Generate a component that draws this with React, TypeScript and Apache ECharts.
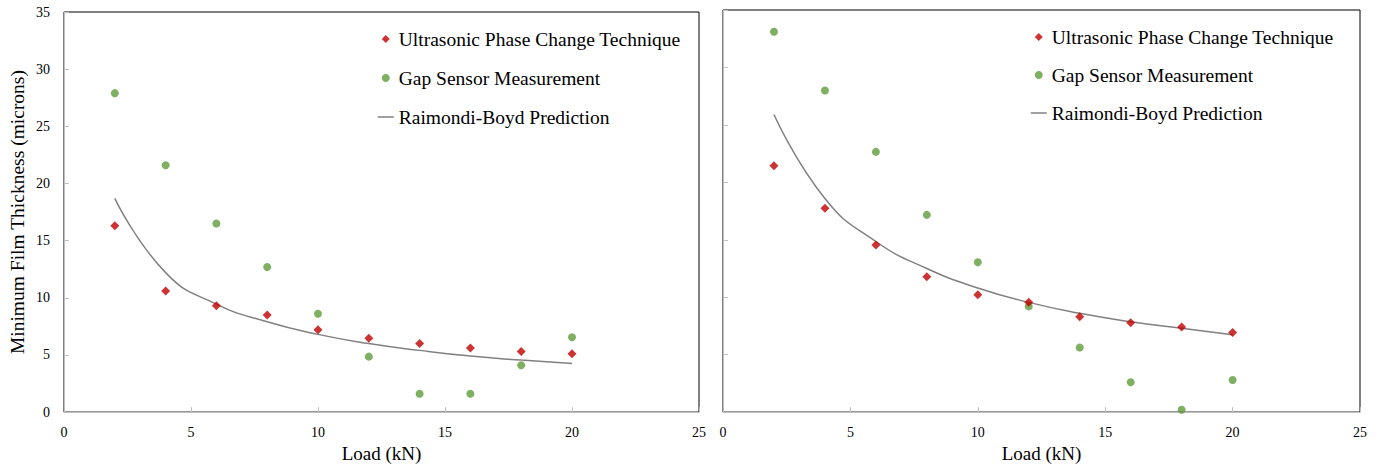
import React, { useEffect, useRef } from "react";
import * as echarts from "echarts";

const loads = [2, 4, 6, 8, 10, 12, 14, 16, 18, 20];

// Left panel
const leftUltrasonic = [16.3, 10.6, 9.3, 8.5, 7.2, 6.45, 6.0, 5.6, 5.3, 5.1];
const leftGap = [27.9, 21.6, 16.5, 12.7, 8.6, 4.85, 1.6, 1.6, 4.1, 6.55];
const leftPrediction = [18.7, 12.2, 9.45, 7.9, 6.8, 6.0, 5.4, 4.9, 4.55, 4.25];

// Right panel
const rightUltrasonic = [21.45, 17.75, 14.55, 11.78, 10.22, 9.57, 8.29, 7.78, 7.4, 6.92];
const rightGap = [33.1, 28.0, 22.65, 17.17, 13.04, 9.2, 5.62, 2.6, 0.2, 2.8];
const rightPrediction = [25.9, 18.6, 14.85, 12.5, 10.8, 9.55, 8.6, 7.87, 7.3, 6.73];

const xTicks = { min: 0, max: 25, interval: 5 };
const yTicks = { min: 0, max: 35, interval: 5 };

const NAMES = [
  "Ultrasonic Phase Change Technique",
  "Gap Sensor Measurement",
  "Raimondi-Boyd Prediction",
];

const RED = "#c00000";
const GREEN = "#5f9c3b";
const GREY = "#808080";
const AXIS = "#bfbfbf";
const FONT = "Liberation Serif";

const DIAMOND_ICON = "path://M0,5L5,0L10,5L5,10Z";
const CIRCLE_ICON =
  "path://M5,0C7.76,0,10,2.24,10,5C10,7.76,7.76,10,5,10C2.24,10,0,7.76,0,5C0,2.24,2.24,0,5,0Z";

const pairs = (ys: number[]) => loads.map((x, i) => [x, ys[i]]);

export default function App() {
  const ref = useRef<HTMLDivElement>(null);
  useEffect(() => {
    document.body.style.margin = "0";
    const chart = echarts.init(ref.current!, null, { renderer: "svg" });

    const xAxisBase = (gridIndex: number) => ({
      type: "value",
      gridIndex,
      ...xTicks,
      name: "Load (kN)",
      nameLocation: "middle",
      nameGap: 27,
      nameTextStyle: { fontFamily: FONT, fontSize: 19, color: "#000" },
      axisLine: { show: true, lineStyle: { color: AXIS, width: 1 } },
      axisTick: { show: true, inside: true, length: 5, lineStyle: { color: AXIS } },
      axisLabel: { fontFamily: FONT, fontSize: 14, color: "#000", margin: 13 },
      splitLine: { show: false },
    });

    const yAxisBase = (gridIndex: number, showLabels: boolean) => ({
      type: "value",
      gridIndex,
      ...yTicks,
      name: showLabels ? "Minimum Film Thickness (microns)" : "",
      nameLocation: "middle",
      nameGap: 37,
      nameTextStyle: { fontFamily: FONT, fontSize: 19.5, color: "#000" },
      axisLine: { show: true, lineStyle: { color: AXIS, width: 1 } },
      axisTick: { show: true, inside: true, length: 5, lineStyle: { color: AXIS } },
      axisLabel: { show: showLabels, fontFamily: FONT, fontSize: 14, color: "#000", margin: 14 },
      splitLine: { show: false },
    });

    const seriesFor = (idx: number, u: number[], g: number[], p: number[]) => [
      {
        name: NAMES[0],
        type: "scatter",
        xAxisIndex: idx,
        yAxisIndex: idx,
        symbol: "diamond",
        symbolSize: 9,
        itemStyle: { color: RED },
        data: pairs(u),
        z: 4,
      },
      {
        name: NAMES[1],
        type: "scatter",
        xAxisIndex: idx,
        yAxisIndex: idx,
        symbol: "circle",
        symbolSize: 8,
        itemStyle: { color: GREEN },
        data: pairs(g),
        z: 3,
      },
      {
        name: NAMES[2],
        type: "line",
        xAxisIndex: idx,
        yAxisIndex: idx,
        symbol: "none",
        smooth: 0.5,
        lineStyle: { color: GREY, width: 1.5 },
        itemStyle: { color: GREY },
        data: pairs(p),
        z: 2,
      },
    ];

    const legendBase = (left: number, top: number, gap: number) => ({
      left,
      top,
      orient: "vertical",
      padding: 0,
      itemWidth: 16,
      itemHeight: 8,
      itemGap: gap,
      symbolKeepAspect: true,
      selectedMode: false,
      textStyle: { fontFamily: FONT, fontSize: 19.5, color: "#000", lineHeight: 20 },
      data: [
        { name: NAMES[0], icon: DIAMOND_ICON, itemStyle: { color: RED } },
        { name: NAMES[1], icon: CIRCLE_ICON, itemStyle: { color: GREEN } },
        { name: NAMES[2], itemStyle: { opacity: 0 }, lineStyle: { color: GREY, width: 1.5, opacity: 1 } },
      ],
    });

    chart.setOption({
      animation: false,
      textStyle: { fontFamily: FONT },
      grid: [
        { left: 64, top: 12, width: 635, height: 407, show: true, borderColor: "#000", borderWidth: 1, backgroundColor: "transparent" },
        { left: 723, top: 10, width: 637, height: 410, show: true, borderColor: "#000", borderWidth: 1, backgroundColor: "transparent" },
      ],
      xAxis: [xAxisBase(0), xAxisBase(1)],
      yAxis: [yAxisBase(0, true), yAxisBase(1, false)],
      legend: [legendBase(377, 29, 19), legendBase(1030, 27, 18)],
      series: [
        ...seriesFor(0, leftUltrasonic, leftGap, leftPrediction),
        ...seriesFor(1, rightUltrasonic, rightGap, rightPrediction),
      ],
    });

    return () => chart.dispose();
  }, []);

  return <div ref={ref} style={{ width: 1380, height: 468, background: "#fff" }} />;
}
